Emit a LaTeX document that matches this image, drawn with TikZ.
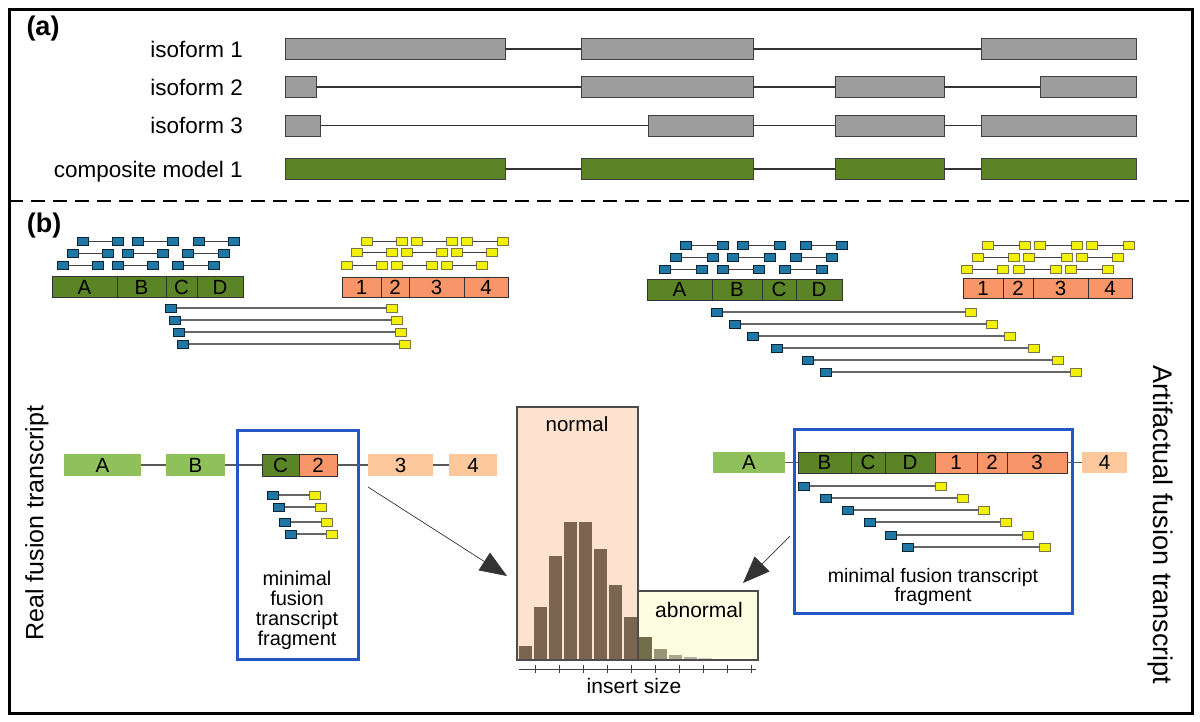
\documentclass[tikz,border=0pt]{standalone}
\usepackage{fontspec}
\setmainfont{Liberation Sans}
\usetikzlibrary{arrows.meta}
\definecolor{exgray}{HTML}{9D9D9D}
\definecolor{dkgreen}{HTML}{5B8426}
\definecolor{ltgreen}{HTML}{8FC05C}
\definecolor{salmon}{HTML}{F8966A}
\definecolor{ltorange}{HTML}{FCC89C}
\definecolor{readblue}{HTML}{1F77A6}
\definecolor{readyellow}{HTML}{F2F200}
\definecolor{boxblue}{HTML}{2457C5}
\definecolor{normfill}{HTML}{FDE3CF}
\definecolor{abnfill}{HTML}{FDFDE2}
\definecolor{barbrown}{HTML}{7C6550}
\newcommand\fsz[1]{\fontsize{#1}{#1}\selectfont}
% name, x1, x2, yc, h, style, text
\newcommand\ex[7]{\node[#6,minimum width={#3-#2},minimum height=#5] (#1) at ({(#2+#3)/2},#4) {#7};}
\tikzset{
  exbase/.style={rectangle,inner sep=0pt,outer sep=0pt,font=\fsz{20.5}},
  gex/.style={exbase,fill=exgray,draw=black!75,line width=1pt},
  cex/.style={exbase,fill=dkgreen,draw=black!75,line width=1pt},
  dkex/.style={exbase,fill=dkgreen,draw=black!80,line width=0.8pt},
  orex/.style={exbase,fill=salmon,draw=black!80,line width=0.8pt},
  lgex/.style={exbase,fill=ltgreen},
  loex/.style={exbase,fill=ltorange},
  intron/.style={line width=1.3pt,draw=black!80},
  fline/.style={line width=1.1pt,draw=black!65},
  rd/.style={rectangle,inner sep=0pt,outer sep=0pt,minimum width=11pt,minimum height=8pt,line width=0.8pt},
  rb/.style={rd,fill=readblue,draw=black!70!readblue},
  ry/.style={rd,fill=readyellow,draw=black!60!yellow},
  rline/.style={line width=1pt,draw=black!75},
  rlong/.style={line width=1.1pt,draw=black!60},
  lab/.style={font=\fsz{22.5},inner sep=0pt},
  bbox/.style={rectangle,draw=boxblue,line width=3pt,inner sep=0pt,outer sep=0pt},
  ptr/.style={draw=black!80,line width=0.7pt,-{Triangle[length=27pt,width=21pt]}},
}
\begin{document}
\begin{tikzpicture}[x=1pt,y=-1pt]
\fill[white] (0,0) rectangle (1200,721);
\useasboundingbox (0,0) rectangle (1200,721);
\draw[line width=3pt] (9,9) rectangle (1192,713);
\draw[line width=1.5pt,dash pattern=on 14pt off 8pt] (9,201) -- (1192,201);

% ---------- (a) ----------
\node[font=\fsz{27}\bfseries,inner sep=0pt] (alab) at (43,29) {(a)};
\node[lab,anchor=base east] (l1) at (243,57) {isoform 1};
\node[lab,anchor=base east] (l2) at (243,95) {isoform 2};
\node[lab,anchor=base east] (l3) at (243,133.5) {isoform 3};
\node[lab,anchor=base east] (l4) at (243,177) {composite model 1};

\ex{i1a}{285}{505}{49}{21}{gex}{}
\ex{i1b}{581}{753}{49}{21}{gex}{}
\ex{i1c}{981}{1136}{49}{21}{gex}{}
\draw[intron] (i1a) -- (i1b); \draw[intron] (i1b) -- (i1c);

\ex{i2a}{285}{316}{87}{21}{gex}{}
\ex{i2b}{581}{753}{87}{21}{gex}{}
\ex{i2c}{835}{944}{87}{21}{gex}{}
\ex{i2d}{1040}{1136}{87}{21}{gex}{}
\draw[intron] (i2a) -- (i2b); \draw[intron] (i2b) -- (i2c); \draw[intron] (i2c) -- (i2d);

\ex{i3a}{285}{320}{125.5}{21}{gex}{}
\ex{i3b}{648}{753}{125.5}{21}{gex}{}
\ex{i3c}{835}{944}{125.5}{21}{gex}{}
\ex{i3d}{981}{1136}{125.5}{21}{gex}{}
\draw[intron] (i3a) -- (i3b); \draw[intron] (i3b) -- (i3c); \draw[intron] (i3c) -- (i3d);

\ex{c1a}{285}{505}{169}{21}{cex}{}
\ex{c1b}{581}{753}{169}{21}{cex}{}
\ex{c1c}{835}{944}{169}{21}{cex}{}
\ex{c1d}{981}{1136}{169}{21}{cex}{}
\draw[intron] (c1a) -- (c1b); \draw[intron] (c1b) -- (c1c); \draw[intron] (c1c) -- (c1d);

% ---------- (b) ----------
\node[font=\fsz{27}\bfseries,inner sep=0pt] (blab) at (44,226) {(b)};

% left cluster bars
\ex{gA}{52}{117}{287}{21}{dkex}{A}
\ex{gB}{117}{166}{287}{21}{dkex}{B}
\ex{gC}{166}{197}{287}{21}{dkex}{C}
\ex{gD}{197}{243}{287}{21}{dkex}{D}
\ex{o1}{342}{381}{287}{20}{orex}{1}
\ex{o2}{381}{409}{287}{20}{orex}{2}
\ex{o3}{409}{464}{287}{20}{orex}{3}
\ex{o4}{464}{508}{287}{20}{orex}{4}

% right cluster bars
\ex{RgA}{647}{712}{289.5}{21}{dkex}{A}
\ex{RgB}{712}{762}{289.5}{21}{dkex}{B}
\ex{RgC}{762}{796}{289.5}{21}{dkex}{C}
\ex{RgD}{796}{842}{289.5}{21}{dkex}{D}
\ex{Ro1}{963}{1003}{288}{20}{orex}{1}
\ex{Ro2}{1003}{1033}{288}{20}{orex}{2}
\ex{Ro3}{1033}{1088}{288}{20}{orex}{3}
\ex{Ro4}{1088}{1132}{288}{20}{orex}{4}

% reads above bars
\foreach \xa/\xb/\yy [count=\i] in {83/118/241,138/173/241,199/234/241,73/108/253,128/163/253,188/224/253,63/98/265,118/153/265,178/214/265}{
  \node[rb] (lbb\i a) at (\xa,\yy) {}; \node[rb] (lbb\i b) at (\xb,\yy) {};
  \draw[rline] (lbb\i a) -- (lbb\i b);}
\foreach \xa/\xb/\yy [count=\i] in {367/402/241,417/452/241,467/503/241,357/392/252.5,407/442/252.5,457/492/252.5,347/382/265,397/432/265,447/482/265}{
  \node[ry] (lyy\i a) at (\xa,\yy) {}; \node[ry] (lyy\i b) at (\xb,\yy) {};
  \draw[rline] (lyy\i a) -- (lyy\i b);}
\foreach \xa/\xb/\yy [count=\i] in {686/723/245,743/780/245,806/842/245,676/713/257,733/770/257,796/832/257,665/702/269,723/759/269,785/822/269}{
  \node[rb] (rbb\i a) at (\xa,\yy) {}; \node[rb] (rbb\i b) at (\xb,\yy) {};
  \draw[rline] (rbb\i a) -- (rbb\i b);}
\foreach \xa/\xb/\yy [count=\i] in {988/1025/245,1040/1077/245,1092/1129/245,978/1014/257,1029/1067/257,1082/1118/257,967/1003/269,1019/1056/269,1071/1108/269}{
  \node[ry] (ryy\i a) at (\xa,\yy) {}; \node[ry] (ryy\i b) at (\xb,\yy) {};
  \draw[rline] (ryy\i a) -- (ryy\i b);}

% long fusion pairs below bars
\foreach \xa/\xb/\yy [count=\i] in {171/392/308,175/397/320,179/401/332,183/405/344}{
  \node[rb] (lf\i a) at (\xa,\yy) {}; \node[ry] (lf\i b) at (\xb,\yy) {};
  \draw[rlong] (lf\i a) -- (lf\i b);}
\foreach \xa/\xb/\yy [count=\i] in {717/971/312,735/992/324,753/1010/336,777/1034/348,808/1058/360,826/1076/372}{
  \node[rb] (rf\i a) at (\xa,\yy) {}; \node[ry] (rf\i b) at (\xb,\yy) {};
  \draw[rlong] (rf\i a) -- (rf\i b);}

% vertical titles
\node[font=\fsz{25},rotate=90,inner sep=0pt] (realt) at (37,523) {Real fusion transcript};
\node[font=\fsz{27},rotate=-90,inner sep=0pt] (artt) at (1160,525) {Artifactual fusion transcript};

% left fusion transcript
\ex{tA}{64}{141}{465}{22}{lgex}{A}
\ex{tB}{166}{225}{465}{22}{lgex}{B}
\ex{tC}{262}{299}{465}{22}{dkex}{C}
\ex{t2}{299}{337}{465}{22}{orex}{2}
\ex{t3}{368}{433}{465}{22}{loex}{3}
\ex{t4}{449}{497}{465}{22}{loex}{4}
\draw[fline] (tA) -- (tB); \draw[fline] (tB) -- (tC);
\draw[fline] (t2) -- (t3); \draw[fline] (t3) -- (t4);

\foreach \xa/\xb/\yy [count=\i] in {273/315/495,279/321/507,285/327/522,291/332/534}{
  \node[rb] (lm\i a) at (\xa,\yy) {}; \node[ry] (lm\i b) at (\xb,\yy) {};
  \draw[rlong] (lm\i a) -- (lm\i b);}
\node[bbox,minimum width=121pt,minimum height=229pt] (lbox) at (297.5,544.5) {};
\node[font=\fsz{20},align=center,inner sep=0pt] (ltxt) at (297,610) {minimal\\[0pt]fusion\\[0pt]transcript\\[0pt]fragment};

% right fusion transcript
\ex{uA}{713}{785}{462.5}{21}{lgex}{A}
\ex{uB}{798}{851}{462.5}{21}{dkex}{B}
\ex{uC}{851}{885}{462.5}{21}{dkex}{C}
\ex{uD}{885}{935}{462.5}{21}{dkex}{D}
\ex{u1}{935}{977}{462.5}{21}{orex}{1}
\ex{u2}{977}{1007}{462.5}{21}{orex}{2}
\ex{u3}{1007}{1067}{462.5}{21}{orex}{3}
\ex{u4}{1082}{1127}{462.5}{21}{loex}{4}
\draw[fline] (uA) -- (uB); \draw[fline] (u3) -- (u4);

\foreach \xa/\xb/\yy [count=\i] in {804/941/486,826/963/498,848/984/510,870/1006/522,891/1028/535,908/1045/547}{
  \node[rb] (rm\i a) at (\xa,\yy) {}; \node[ry] (rm\i b) at (\xb,\yy) {};
  \draw[rlong] (rm\i a) -- (rm\i b);}
\node[bbox,minimum width=278pt,minimum height=184pt] (rbox) at (933,521) {};
\node[font=\fsz{19.5},align=center,inner sep=0pt] (rtxt) at (933,587) {minimal fusion transcript\\[-1pt]fragment};

% histogram
\node[rectangle,fill=normfill,draw=black!70,line width=1.1pt,minimum width=121pt,minimum height=253pt,inner sep=0pt,outer sep=0pt] (normbox) at (577.5,533.5) {};
\node[rectangle,fill=abnfill,draw=black!70,line width=1.1pt,minimum width=120pt,minimum height=69pt,inner sep=0pt,outer sep=0pt] (abnbox) at (698,625.5) {};
\draw[black!70,line width=1.1pt] (638,591) -- (638,660);
\foreach \xl/\yt in {519/646,534/607,549/556,564/522,579/522,594/549,609/585,624/617}{
  \fill[barbrown] (\xl,\yt) rectangle ++(13,659-\yt);}
\fill[black!45!olive!60!gray] (639,637) rectangle (652,659);
\fill[black!35!olive!45!gray!80] (654,649) rectangle (667,659);
\fill[black!25!olive!35!gray!70] (669,655) rectangle (682,659);
\fill[gray!60!abnfill] (684,657) rectangle (697,659);
\fill[gray!35!abnfill] (699,658) rectangle (712,659);
\node[font=\fsz{20.5},inner sep=0pt] (normt) at (577,424) {normal};
\node[font=\fsz{21},inner sep=0pt] (abnt) at (699,610) {abnormal};
\draw[black!75,line width=1pt] (519,669) -- (756,669);
\foreach \k in {0,...,9}{\draw[black!75,line width=0.9pt] ({535+24.1*\k},665) -- ({535+24.1*\k},673);}
\node[font=\fsz{21},inner sep=0pt] (inst) at (634,686) {insert size};

% pointers
\coordinate (lpS) at (368,487);
\coordinate (lpE) at (507,576);
\coordinate (rpS) at (790,536);
\coordinate (rpE) at (743,583);
\draw[ptr] (lpS) -- (lpE);
\draw[ptr] (rpS) -- (rpE);
\end{tikzpicture}
\end{document}
